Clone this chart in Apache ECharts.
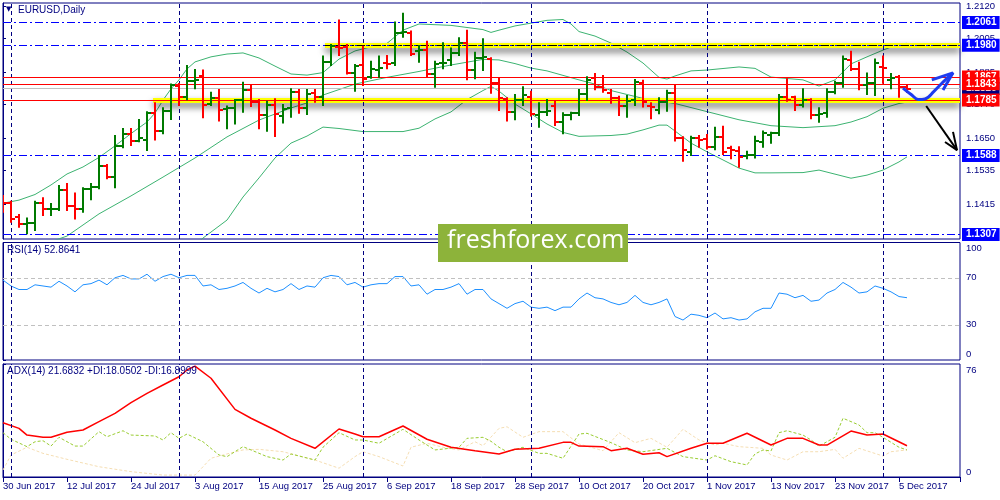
<!DOCTYPE html>
<html><head><meta charset="utf-8">
<script src="https://cdn.jsdelivr.net/npm/echarts@6/dist/echarts.min.js"></script>
<style>html,body{margin:0;padding:0;background:#fff}#c{width:1000px;height:500px}</style>
</head><body><div id="c"></div>
<script>
// ---------- data ----------
const tickLabelsX = ['30 Jun 2017','12 Jul 2017','24 Jul 2017','3 Aug 2017','15 Aug 2017','25 Aug 2017','6 Sep 2017','18 Sep 2017','28 Sep 2017','10 Oct 2017','20 Oct 2017','1 Nov 2017','13 Nov 2017','23 Nov 2017','5 Dec 2017'];
const priceTicks = [1.2120,1.2005,1.1885,1.1770,1.1650,1.1535,1.1415];
const open  = [1.1437,1.1418,1.1370,1.1344,1.1347,1.1420,1.1396,1.1396,1.1465,1.1408,1.1396,1.1468,1.1475,1.1550,1.1510,1.1622,1.1664,1.1641,1.1643,1.1740,1.1676,1.1747,1.1835,1.1797,1.1853,1.1871,1.1771,1.1791,1.1752,1.1756,1.1785,1.1821,1.1779,1.1732,1.1768,1.1730,1.1756,1.1813,1.1756,1.1809,1.1797,1.1922,1.1975,1.1975,1.1883,1.1910,1.1868,1.1892,1.1918,1.1918,1.2023,1.2023,1.1961,1.1963,1.1878,1.1916,1.1928,1.1952,1.1989,1.1892,1.1934,1.1930,1.1847,1.1788,1.1744,1.1785,1.1797,1.1732,1.1744,1.1764,1.1708,1.1732,1.1738,1.1806,1.1863,1.1831,1.1811,1.1792,1.1764,1.1785,1.1847,1.1764,1.1750,1.1779,1.1809,1.1649,1.1601,1.1649,1.1646,1.1619,1.1653,1.1613,1.1605,1.1586,1.1590,1.1637,1.1661,1.1667,1.1797,1.1795,1.1768,1.1785,1.1732,1.1738,1.1815,1.1847,1.1928,1.1895,1.1839,1.1845,1.1904,1.1857,1.1866,1.1831];
const high  = [1.1444,1.1423,1.1376,1.1364,1.1423,1.1436,1.1415,1.1479,1.1486,1.1453,1.1471,1.1486,1.1586,1.1554,1.1657,1.1682,1.1682,1.1714,1.1742,1.1774,1.1756,1.1841,1.1842,1.1906,1.1892,1.1890,1.1811,1.1821,1.1762,1.1785,1.1847,1.1836,1.1785,1.1779,1.1788,1.1768,1.1824,1.1821,1.1821,1.1821,1.1940,1.1981,1.2068,1.1981,1.1910,1.1975,1.1922,1.1940,1.1942,1.2061,1.2092,1.2029,1.1978,1.1993,1.1922,1.1987,1.1969,1.2005,1.2032,1.1954,1.2002,1.1934,1.1860,1.1792,1.1803,1.1831,1.1815,1.1774,1.1785,1.1779,1.1738,1.1740,1.1821,1.1866,1.1878,1.1871,1.1821,1.1797,1.1800,1.1857,1.1854,1.1774,1.1792,1.1818,1.1835,1.1653,1.1655,1.1657,1.1661,1.1687,1.1690,1.1619,1.1617,1.1601,1.1655,1.1673,1.1669,1.1803,1.1859,1.1797,1.1824,1.1788,1.1756,1.1824,1.1850,1.1940,1.1957,1.1918,1.1880,1.1930,1.1940,1.1878,1.1871,1.1839];
const low   = [1.1388,1.1352,1.1334,1.1311,1.1323,1.1376,1.1376,1.1394,1.1394,1.1364,1.1388,1.1432,1.1471,1.1507,1.1475,1.1617,1.1625,1.1639,1.1607,1.1645,1.1667,1.1718,1.1768,1.1788,1.1827,1.1724,1.1768,1.1712,1.1685,1.1702,1.1744,1.1764,1.1685,1.1676,1.1657,1.1705,1.1726,1.1740,1.1736,1.1779,1.1768,1.1910,1.1946,1.1880,1.1818,1.1839,1.1865,1.1868,1.1898,1.1910,1.2011,1.1946,1.1922,1.1868,1.1833,1.1898,1.1910,1.1946,1.1859,1.1863,1.1892,1.1811,1.1750,1.1712,1.1717,1.1768,1.1730,1.1690,1.1732,1.1696,1.1667,1.1717,1.1732,1.1785,1.1824,1.1815,1.1776,1.1732,1.1726,1.1768,1.1762,1.1720,1.1738,1.1747,1.1641,1.1569,1.1590,1.1619,1.1613,1.1610,1.1593,1.1578,1.1548,1.1578,1.1581,1.1619,1.1633,1.1661,1.1783,1.1750,1.1762,1.1720,1.1708,1.1726,1.1809,1.1833,1.1892,1.1824,1.1807,1.1803,1.1847,1.1827,1.1797,1.1814];
const close = [1.1420,1.1361,1.1344,1.1347,1.1420,1.1396,1.1398,1.1465,1.1408,1.1396,1.1468,1.1475,1.1550,1.1510,1.1622,1.1664,1.1639,1.1650,1.1739,1.1676,1.1747,1.1839,1.1797,1.1853,1.1857,1.1768,1.1791,1.1750,1.1756,1.1785,1.1821,1.1779,1.1733,1.1768,1.1736,1.1752,1.1813,1.1756,1.1805,1.1797,1.1922,1.1978,1.1969,1.1883,1.1906,1.1859,1.1895,1.1900,1.1914,1.2023,1.2029,1.1949,1.1963,1.1878,1.1914,1.1918,1.1954,1.1989,1.1892,1.1934,1.1937,1.1847,1.1792,1.1744,1.1785,1.1803,1.1735,1.1744,1.1746,1.1708,1.1732,1.1738,1.1806,1.1857,1.1831,1.1821,1.1792,1.1764,1.1782,1.1850,1.1779,1.1759,1.1779,1.1809,1.1649,1.1607,1.1649,1.1643,1.1619,1.1653,1.1601,1.1607,1.1584,1.1590,1.1641,1.1667,1.1667,1.1797,1.1787,1.1768,1.1785,1.1732,1.1736,1.1815,1.1847,1.1930,1.1895,1.1839,1.1845,1.1916,1.1898,1.1863,1.1831,1.1826];
const bbUpper = [[0,1.1418],[2,1.1429],[4,1.1449],[6,1.1483],[8,1.1522],[10,1.1547],[12,1.1581],[14,1.1622],[16,1.1666],[18,1.1707],[19,1.1739],[20,1.1785],[21,1.1825],[22,1.1857],[23,1.1896],[24,1.1921],[26,1.1939],[28,1.1949],[30,1.1953],[32,1.1935],[34,1.1906],[36,1.1878],[38,1.1874],[40,1.1883],[42,1.1931],[44,1.1960],[46,1.1975],[48,1.1987],[50,1.2034],[52,1.2056],[56,1.2051],[60,1.2036],[61,1.2026],[62,1.2034],[64,1.2049],[66,1.2059],[68,1.2069],[70,1.2072],[71,1.2056],[72,1.2029],[74,1.2013],[76,1.1988],[78,1.1956],[80,1.1917],[82,1.1866],[83,1.1860],[84,1.1871],[86,1.1889],[88,1.1892],[92,1.1903],[94,1.1898],[96,1.1867],[100,1.1857],[102,1.1835],[104,1.1857],[106,1.1914],[108,1.1939],[110,1.1963],[112,1.1985],[113,1.1987]];
const bbMiddle = [[0,1.1234],[4,1.1262],[8,1.1301],[12,1.1380],[16,1.1444],[20,1.1511],[24,1.1579],[28,1.1654],[32,1.1714],[36,1.1757],[38,1.1775],[40,1.1803],[44,1.1842],[48,1.1866],[52,1.1887],[56,1.1910],[60,1.1930],[62,1.1928],[64,1.1915],[66,1.1899],[68,1.1889],[72,1.1857],[74,1.1842],[76,1.1819],[80,1.1791],[84,1.1773],[88,1.1744],[92,1.1715],[96,1.1694],[100,1.1687],[104,1.1694],[106,1.1707],[108,1.1726],[110,1.1756],[112,1.1773],[113,1.1778]];
const bbLower = [[0,1.1000],[12,1.1080],[20,1.1160],[24,1.1269],[25,1.1294],[28,1.1358],[30,1.1440],[32,1.1508],[34,1.1579],[36,1.1632],[38,1.1657],[40,1.1689],[42,1.1684],[45,1.1673],[50,1.1673],[52,1.1685],[54,1.1718],[56,1.1743],[58,1.1787],[60,1.1819],[61,1.1834],[62,1.1817],[64,1.1771],[66,1.1736],[68,1.1700],[70,1.1670],[72,1.1656],[76,1.1659],[78,1.1664],[80,1.1679],[82,1.1696],[83,1.1696],[84,1.1675],[86,1.1632],[88,1.1601],[90,1.1572],[92,1.1543],[94,1.1526],[96,1.1526],[100,1.1527],[102,1.1536],[106,1.1507],[108,1.1518],[110,1.1536],[112,1.1565],[113,1.1583]];
const rsi = [[0,68],[1,63],[2,60],[3,60],[4,64],[5,63],[6,62],[7,67],[8,63],[9,58],[10,64],[11,65],[12,68],[13,64],[14,70],[15,72],[16,69],[17,69],[18,73],[19,67],[20,71],[21,73],[22,70],[23,72],[24,72],[25,63],[26,64],[27,60],[28,61],[29,63],[30,66],[31,61],[32,57],[33,61],[34,58],[35,60],[36,65],[37,60],[38,63],[39,62],[40,70],[41,72],[42,71],[43,64],[44,66],[45,62],[46,64],[47,65],[48,65],[49,71],[50,71],[51,63],[52,64],[53,56],[54,60],[55,60],[56,62],[57,65],[58,56],[59,60],[60,60],[61,52],[62,48],[63,44],[64,48],[65,50],[66,45],[67,44],[68,45],[69,42],[70,45],[71,45],[72,52],[73,57],[74,53],[75,52],[76,49],[77,47],[78,49],[79,55],[80,49],[81,47],[82,49],[83,52],[84,37],[85,34],[86,39],[87,38],[88,36],[89,40],[90,35],[91,36],[92,34],[93,35],[94,41],[95,44],[96,44],[97,57],[98,56],[99,53],[100,55],[101,50],[102,51],[103,57],[104,60],[105,66],[106,62],[107,57],[108,58],[109,63],[110,61],[111,58],[112,54],[113,53]];
const adx = [[0,36.5],[2,32.7],[3,28.2],[5,26.7],[6,26.7],[8,30.1],[10,31.6],[12,37.2],[14,42.8],[16,50.0],[18,56.3],[20,61.9],[22,67.4],[23,72.0],[24,74.6],[26,66.4],[29,45.5],[31,39.5],[34,31.6],[36,26.0],[39,19.3],[42,32.3],[44,28.9],[45,27.1],[47,27.1],[50,34.3],[53,25.4],[56,20.0],[59,17.7],[62,15.5],[64,18.6],[67,19.3],[70,23.3],[71,23.3],[72,20.8],[75,20.4],[76,17.7],[78,19.3],[80,15.3],[82,16.3],[83,13.7],[86,19.3],[88,22.7],[90,22.7],[93,29.4],[96,21.5],[98,26.0],[100,26.0],[102,21.5],[103,21.5],[106,30.9],[108,28.2],[110,28.9],[113,21.0]];
const plusDI = [[0,29.8],[1,25.4],[3,20.4],[4,23.7],[5,24.4],[6,20.8],[7,26.7],[9,20.8],[10,20.8],[12,30.5],[13,27.1],[15,31.1],[16,28.2],[19,27.6],[20,24.9],[21,29.8],[22,26.0],[23,28.9],[25,23.7],[27,14.8],[28,13.7],[30,20.4],[31,18.2],[33,13.7],[35,11.4],[36,15.5],[39,11.4],[40,20.0],[42,29.8],[44,24.9],[45,24.9],[47,22.7],[50,32.1],[52,24.9],[54,18.2],[57,20.0],[58,26.0],[60,26.7],[61,24.0],[62,20.0],[63,17.0],[65,20.0],[67,15.9],[68,15.9],[70,12.6],[72,28.9],[73,29.4],[76,23.1],[78,18.2],[80,17.0],[83,19.3],[85,13.7],[88,11.4],[89,14.3],[91,10.3],[93,8.1],[94,15.5],[95,18.2],[96,17.5],[97,29.8],[98,31.1],[100,28.2],[101,24.9],[102,20.8],[104,26.7],[105,39.5],[107,35.0],[108,29.8],[109,29.8],[110,26.7],[112,20.0],[113,18.2]];
const minusDI = [[0,4.7],[1,14.8],[3,20.0],[5,15.9],[8,11.9],[12,6.9],[16,3.6],[20,1.3],[24,1.3],[25,6.9],[26,12.6],[28,15.5],[30,18.2],[32,18.6],[35,17.0],[39,11.4],[42,5.9],[44,13.7],[45,17.0],[47,13.7],[50,7.4],[51,20.0],[53,22.7],[55,20.0],[57,18.2],[59,23.7],[60,21.0],[62,32.7],[63,33.8],[65,26.7],[67,30.5],[70,30.5],[72,22.2],[75,17.7],[77,29.8],[79,23.1],[81,26.0],[83,20.0],[85,32.1],[87,24.9],[89,21.5],[90,22.7],[92,20.4],[95,19.3],[96,14.8],[98,11.4],[100,17.0],[102,17.0],[104,18.6],[105,12.6],[107,19.3],[110,14.1],[111,17.0],[113,18.2]];
const blueLevels = [1.2061,1.1980,1.1588,1.1307];
const redLevels = [1.1867,1.1843,1.1785];
const bidLevel = 1.1826;
const bandTop = [40.25,1.1980];
const bandBottom = [18.75,1.1785];
const monthStarts = [1,22,45,66,88,110];
const blueArrow = [[112.5,1.1828],[113.6,1.1803],[114.4,1.1787],[115.25,1.1789],[116.4,1.1817],[117.5,1.1849],[118.75,1.1882]];
const blueHead = [[116.1,1.1857],[118.75,1.1882],[117.5,1.1821]];
const blackArrow = [[115.4,1.1764],[119.25,1.1607]];
const blackHead = [[117.75,1.1636],[119.25,1.1607],[118.75,1.1672]];

// ---------- chart ----------
const NAVY = '#000080';
const FONT = 'Liberation Sans';
const XMAX = 119.625;
const chart = echarts.init(document.getElementById('c'));
const ohlc = open.map((o,i)=>[i,o,high[i],low[i],close[i]]);

function vlines(){ return monthStarts.map(v=>({xAxis:v})); }
const vlineStyle = {color:NAVY, type:[4,3], width:1};
function boxLabel(bg){
  return {show:true, position:'end', distance:2, formatter:p=>Number(p.value).toFixed(4),
    backgroundColor:bg, color:'#fff', fontFamily:FONT, fontSize:10, fontWeight:'bold',
    padding:[1,3,1,4], lineHeight:11};
}
const helper = (grid, z, markLine) => ({type:'line', xAxisIndex:grid, yAxisIndex:grid, data:[], z:z, silent:true,
  markLine:Object.assign({silent:true, precision:4, symbol:['none','none'], animation:false, label:{show:false}, lineStyle:{type:'solid'}}, markLine)});
const bandStyle = {color:'#ffff00', width:5, type:'solid', shadowColor:'rgba(0,0,0,0.6)', shadowBlur:7, shadowOffsetY:4};

const xBase = {type:'value', min:0, max:XMAX, interval:8, splitLine:{show:false}};
const option = {
  animation:false,
  backgroundColor:'#fff',
  grid:[
    {left:3, top:3, width:957, height:236, show:true, borderColor:NAVY, borderWidth:1},
    {left:3, top:242.5, width:957, height:117.5, show:true, borderColor:NAVY, borderWidth:1},
    {left:3, top:364, width:957, height:113, show:true, borderColor:NAVY, borderWidth:1}
  ],
  xAxis:[
    Object.assign({gridIndex:0, show:false}, xBase),
    Object.assign({gridIndex:1, show:false}, xBase),
    Object.assign({gridIndex:2, axisLine:{show:true, lineStyle:{color:NAVY}}, axisTick:{show:true, length:5, lineStyle:{color:NAVY}},
      axisLabel:{show:true, align:'left', margin:4, color:NAVY, fontFamily:FONT, fontSize:9.5,
        formatter:v=>(Math.abs(v%8)<1e-6 && v/8<tickLabelsX.length) ? tickLabelsX[Math.round(v/8)] : ''}}, xBase)
  ],
  yAxis:[
    {gridIndex:0, type:'value', position:'right', min:1.12906, max:1.21307, splitLine:{show:false},
      axisLine:{show:true, lineStyle:{color:NAVY}}, axisTick:{show:true, length:3, customValues:priceTicks, lineStyle:{color:NAVY}},
      axisLabel:{customValues:priceTicks, formatter:v=>v.toFixed(4), color:NAVY, fontFamily:FONT, fontSize:9.5, margin:6}},
    {gridIndex:1, type:'value', position:'right', min:0, max:100, splitLine:{show:false},
      axisLine:{show:true, lineStyle:{color:NAVY}}, axisTick:{show:true, length:3, customValues:[0,30,70,100], lineStyle:{color:NAVY}},
      axisLabel:{customValues:[0,30,70,100], color:NAVY, fontFamily:FONT, fontSize:9.5, margin:6,
        formatter:v=> v===100?'{t|100}': v===0?'{b|0}':String(v),
        rich:{t:{padding:[12,0,0,0], fontFamily:FONT, fontSize:9.5, color:NAVY}, b:{padding:[0,0,12,0], fontFamily:FONT, fontSize:9.5, color:NAVY}}}},
    {gridIndex:2, type:'value', position:'right', min:0, max:76, splitLine:{show:false},
      axisLine:{show:true, lineStyle:{color:NAVY}}, axisTick:{show:true, length:3, customValues:[0,76], lineStyle:{color:NAVY}},
      axisLabel:{customValues:[0,76], color:NAVY, fontFamily:FONT, fontSize:9.5, margin:6,
        formatter:v=> v===76?'{t|76}':'{b|0}',
        rich:{t:{padding:[12,0,0,0], fontFamily:FONT, fontSize:9.5, color:NAVY}, b:{padding:[0,0,10,0], fontFamily:FONT, fontSize:9.5, color:NAVY}}}}
  ],
  series:[
    helper(0, 1, {data:[
      [{coord:bandTop, lineStyle:bandStyle}, {coord:[XMAX,bandTop[1]]}],
      [{coord:bandBottom, lineStyle:bandStyle}, {coord:[XMAX,bandBottom[1]]}]
    ]}),
    helper(0, 2, {data:vlines(), lineStyle:vlineStyle}),
    helper(1, 2, {data:vlines(), lineStyle:vlineStyle}),
    helper(2, 2, {data:vlines(), lineStyle:vlineStyle}),
    helper(0, 2, {data:[{yAxis:bidLevel, lineStyle:{color:'#c0c0c0', width:1, type:'solid'}, label:boxLabel('#000080')}]}),
    helper(0, 3, {data:blueLevels.map(v=>({yAxis:v, lineStyle:{color:'#0000ff', width:1, type:[8,3,2,3]}, label:boxLabel('#0000ff')}))}),
    helper(0, 3, {data:[[{coord:bandTop, lineStyle:{color:'#000000', width:1, type:[8,3,2,3]}}, {coord:[XMAX,bandTop[1]]}]]}),
    helper(0, 4, {data:redLevels.map(v=>({yAxis:v, lineStyle:{color:'#ff0000', width:1.2, type:'solid'}, label:boxLabel('#ff0000')}))}),
    helper(1, 2, {data:[{yAxis:70},{yAxis:30}], lineStyle:{color:'#c0c0c0', type:[4,3], width:1}}),
    {type:'line', xAxisIndex:0, yAxisIndex:0, data:bbUpper, showSymbol:false, symbol:'none', lineStyle:{color:'#3cb371', width:1}, z:3, silent:true},
    {type:'line', xAxisIndex:0, yAxisIndex:0, data:bbMiddle, showSymbol:false, symbol:'none', lineStyle:{color:'#3cb371', width:1}, z:3, silent:true},
    {type:'line', xAxisIndex:0, yAxisIndex:0, data:bbLower, showSymbol:false, symbol:'none', lineStyle:{color:'#3cb371', width:1}, z:3, silent:true},
    {type:'custom', xAxisIndex:0, yAxisIndex:0, data:ohlc, z:5, clip:true, silent:true,
      encode:{x:0, y:[1,2,3,4]},
      renderItem:function(params, api){
        const i = api.value(0);
        const o = api.coord([i, api.value(1)]);
        const h = api.coord([i, api.value(2)]);
        const l = api.coord([i, api.value(3)]);
        const c = api.coord([i, api.value(4)]);
        const up = api.value(4) >= api.value(1);
        const style = {stroke: up ? '#007a00' : '#ff0000', lineWidth:2};
        const x = Math.round(o[0]);
        return {type:'group', children:[
          {type:'line', shape:{x1:x, y1:h[1]-1, x2:x, y2:l[1]+1}, style:style},
          {type:'line', shape:{x1:x-4, y1:Math.round(o[1]), x2:x, y2:Math.round(o[1])}, style:style},
          {type:'line', shape:{x1:x, y1:Math.round(c[1]), x2:x+4, y2:Math.round(c[1])}, style:style}
        ]};
      }},
    {type:'line', xAxisIndex:0, yAxisIndex:0, data:blueArrow, smooth:0.4, symbol:'none', lineStyle:{color:'#1e3cf0', width:3}, z:8, silent:true},
    {type:'line', xAxisIndex:0, yAxisIndex:0, data:blueHead, symbol:'none', lineStyle:{color:'#1e3cf0', width:3}, z:8, silent:true},
    {type:'line', xAxisIndex:0, yAxisIndex:0, data:blackArrow, symbol:'none', lineStyle:{color:'#000', width:2}, z:8, silent:true},
    {type:'line', xAxisIndex:0, yAxisIndex:0, data:blackHead, symbol:'none', lineStyle:{color:'#000', width:2}, z:8, silent:true},
    {type:'line', xAxisIndex:1, yAxisIndex:1, data:rsi, symbol:'none', lineStyle:{color:'#1e90ff', width:1}, z:4, silent:true},
    {type:'line', xAxisIndex:2, yAxisIndex:2, data:minusDI, symbol:'none', lineStyle:{color:'#f5deb3', width:1, type:[3,2]}, z:3, silent:true},
    {type:'line', xAxisIndex:2, yAxisIndex:2, data:plusDI, symbol:'none', lineStyle:{color:'#9acd32', width:1, type:[3,2]}, z:3, silent:true},
    {type:'line', xAxisIndex:2, yAxisIndex:2, data:adx, symbol:'none', lineStyle:{color:'#ff0000', width:1.5}, z:4, silent:true}
  ],
  graphic:[
    {type:'text', left:6, top:6, style:{text:'▼', fill:NAVY, font:'7px "DejaVu Sans"'}, z:50},
    {type:'text', left:18, top:5, style:{text:'EURUSD,Daily', fill:NAVY, font:'10px "Liberation Sans"'}, z:50},
    {type:'text', left:7, top:245, style:{text:'RSI(14) 52.8641', fill:NAVY, font:'10px "Liberation Sans"'}, z:50},
    {type:'text', left:7, top:366, style:{text:'ADX(14) 21.6832 +DI:18.0502 -DI:16.8999', fill:NAVY, font:'10px "Liberation Sans"'}, z:50},
    {type:'rect', left:438, top:224, shape:{width:190, height:38}, style:{fill:'#8db33a'}, z:60},
    {type:'text', left:447, top:228, style:{text:'freshforex.com', fill:'#ffffff', font:'25px "Open Sans"'}, z:61}
  ]
};
chart.setOption(option);
</script>
</body></html>
